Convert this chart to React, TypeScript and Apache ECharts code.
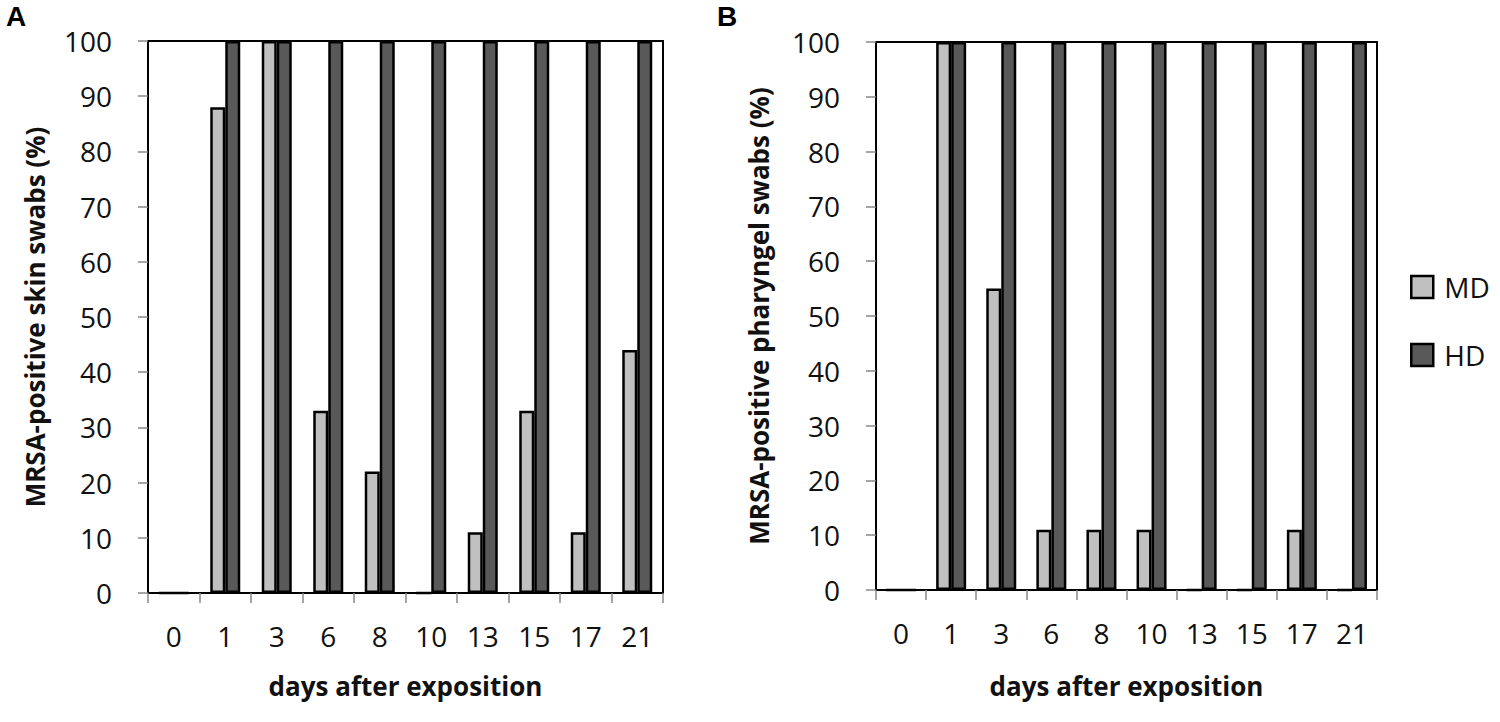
import React, { useEffect, useRef } from "react";
import * as echarts from "echarts";

const days = ["0", "1", "3", "6", "8", "10", "13", "15", "17", "21"];
const skinMD = [0, 88, 100, 33, 22, 0, 11, 33, 11, 44];
const skinHD = [0, 100, 100, 100, 100, 100, 100, 100, 100, 100];
const pharMD = [0, 100, 55, 11, 11, 11, 0, 0, 11, 0];
const pharHD = [0, 100, 100, 100, 100, 100, 100, 100, 100, 100];
const yTicks = [0, 10, 20, 30, 40, 50, 60, 70, 80, 90, 100];

const FONT = "'Open Sans', 'DejaVu Sans', sans-serif";
const MD_COLOR = "#c0c0c0";
const HD_COLOR = "#595959";

export default function App() {
  const ref = useRef<HTMLDivElement>(null);
  useEffect(() => {
    if (!ref.current) return;
    const chart = echarts.init(ref.current, null, { renderer: "svg" });
    const yAxisBase = (gridIndex: number, name: string, nameGap: number) => ({
      type: "value",
      gridIndex,
      min: yTicks[0],
      max: yTicks[yTicks.length - 1],
      interval: 10,
      name,
      nameLocation: "middle",
      nameGap,
      nameTextStyle: { fontFamily: FONT, fontSize: 26, fontWeight: "bold", color: "#111" },
      axisLine: { show: true, lineStyle: { color: "#000", width: 2 } },
      axisTick: { show: true, length: 10, lineStyle: { color: "#888", width: 1.5 } },
      axisLabel: { fontFamily: FONT, fontSize: 28, color: "#111", margin: 36 },
      splitLine: { show: false },
    });
    const xAxisBase = (gridIndex: number, nameGap: number) => ({
      type: "category",
      gridIndex,
      data: days,
      name: "days after exposition",
      nameLocation: "middle",
      nameGap,
      nameTextStyle: { fontFamily: FONT, fontSize: 26, fontWeight: "bold", color: "#111" },
      axisLine: { show: true, lineStyle: { color: "#000", width: 2 } },
      axisTick: { show: true, length: 10, alignWithLabel: false, lineStyle: { color: "#888", width: 1.5 } },
      axisLabel: { fontFamily: FONT, fontSize: 28, color: "#111", margin: 29 },
      splitLine: { show: false },
    });
    const barBase = (name: string, color: string, data: number[], idx: number) => ({
      type: "bar",
      name,
      xAxisIndex: idx,
      yAxisIndex: idx,
      data,
      barWidth: 15,
      barGap: "0%",
      itemStyle: { color, borderColor: "#000", borderWidth: 2.5 },
    });
    chart.setOption({
      animation: false,
      backgroundColor: "#fff",
      grid: [
        { left: 148, top: 41, width: 515, height: 552, show: true, borderColor: "#000", borderWidth: 2, containLabel: false },
        { left: 876, top: 42, width: 501, height: 548, show: true, borderColor: "#000", borderWidth: 2, containLabel: false },
      ],
      xAxis: [xAxisBase(0, 80), xAxisBase(1, 83)],
      yAxis: [
        yAxisBase(0, "MRSA-positive skin swabs (%)", 100),
        yAxisBase(1, "MRSA-positive pharyngel swabs (%)", 104),
      ],
      legend: {
        orient: "vertical",
        left: 1405,
        top: 268,
        icon: "rect",
        itemWidth: 22,
        itemHeight: 22,
        itemGap: 40,
        data: [
          { name: "MD", itemStyle: { color: MD_COLOR, borderColor: "#000", borderWidth: 2.5 } },
          { name: "HD", itemStyle: { color: HD_COLOR, borderColor: "#000", borderWidth: 2.5 } },
        ],
        textStyle: { fontFamily: FONT, fontSize: 28, color: "#111", padding: [0, 0, 0, 6] },
        selectedMode: false,
      },
      graphic: [
        { type: "text", left: 6, top: 2, style: { text: "A", fontFamily: "'Liberation Sans', Arial, sans-serif", fontSize: 28, fontWeight: "bold", fill: "#000" } },
        { type: "text", left: 717, top: 2, style: { text: "B", fontFamily: "'Liberation Sans', Arial, sans-serif", fontSize: 28, fontWeight: "bold", fill: "#000" } },
      ],
      series: [
        barBase("MD", MD_COLOR, skinMD, 0),
        barBase("HD", HD_COLOR, skinHD, 0),
        barBase("MD", MD_COLOR, pharMD, 1),
        barBase("HD", HD_COLOR, pharHD, 1),
      ],
    });
    return () => chart.dispose();
  }, []);
  return <div ref={ref} style={{ position: "fixed", left: 0, top: 0, width: 1500, height: 722 }} />;
}
